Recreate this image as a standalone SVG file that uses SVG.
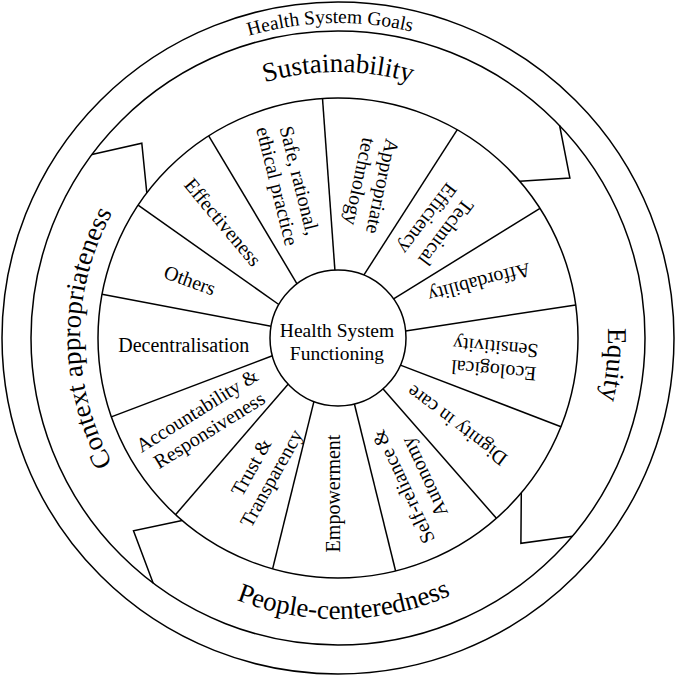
<svg xmlns="http://www.w3.org/2000/svg" width="676" height="676" viewBox="0 0 676 676">
<style>
.ln{fill:none;stroke:#000;stroke-width:1.5}
.lbl{font-family:"Liberation Serif","Times New Roman",serif;font-size:20px;fill:#000;text-anchor:middle}
.big{font-family:"Liberation Serif","Times New Roman",serif;font-size:27px;fill:#000;text-anchor:middle}
.goal{font-family:"Liberation Serif","Times New Roman",serif;font-size:19.5px;fill:#000;text-anchor:middle}
</style>
<defs>
<path id="pGoals" d="M23,338 A315,315 0 0 1 653,338"/>
<path id="pSust" d="M72,338 A266,266 0 0 1 604,338"/>
<path id="pEq" d="M338,68 A270,270 0 0 1 338,608"/>
<path id="pPeople" d="M57,338 A281,281 0 0 0 619,338"/>
<path id="pCtx" d="M338,596 A258,258 0 0 1 338,80"/>
</defs>
<rect width="676" height="676" fill="#fff"/>
<g id="goals-ring">
<circle class="ln" cx="338" cy="338" r="336"/>
<circle class="ln" cx="338" cy="338" r="307"/>
<text class="goal"><textPath href="#pGoals" startOffset="486.6">Health System Goals</textPath></text>
</g>
<g id="wheel">
<circle class="ln" cx="338" cy="338" r="240"/>
</g>
<g id="arrows">
<polyline class="ln" points="91.9,154.5 141.8,143.2 146.8,192.9"/>
<polyline class="ln" points="519.7,181.3 569.9,178 559.6,125.5"/>
<polyline class="ln" points="521.3,492.9 520.9,543.3 572.5,536.2"/>
<polyline class="ln" points="182.1,520.5 133.5,530.7 153.2,583.2"/>
</g>
<g id="goal-sustainability"><text class="big"><textPath href="#pSust" startOffset="50%">Sustainability</textPath></text></g>
<g id="goal-equity"><text class="big"><textPath href="#pEq" startOffset="450">Equity</textPath></text></g>
<g id="goal-people"><text class="big"><textPath href="#pPeople" startOffset="447.3">People-centeredness</textPath></text></g>
<g id="goal-context"><text class="big"><textPath href="#pCtx" startOffset="50%">Context appropriateness</textPath></text></g>
<g id="spokes">
<line class="ln" x1="334.9" y1="270.1" x2="322.5" y2="98.5"/>
<line class="ln" x1="363.8" y1="275.1" x2="457.3" y2="129.7"/>
<line class="ln" x1="393.6" y1="298.9" x2="540.0" y2="208.3"/>
<line class="ln" x1="405.6" y1="330.9" x2="575.7" y2="305.0"/>
<line class="ln" x1="400.4" y1="365.1" x2="561.0" y2="426.7"/>
<line class="ln" x1="383.1" y1="388.9" x2="496.4" y2="518.3"/>
<line class="ln" x1="354.4" y1="404.0" x2="395.6" y2="571.0"/>
<line class="ln" x1="313.9" y1="401.6" x2="272.6" y2="568.9"/>
<line class="ln" x1="288.1" y1="384.2" x2="175.5" y2="514.7"/>
<line class="ln" x1="272.4" y1="355.8" x2="111.3" y2="416.9"/>
<line class="ln" x1="271.0" y1="326.3" x2="102.0" y2="294.3"/>
<line class="ln" x1="278.8" y1="304.5" x2="138.1" y2="205.2"/>
<line class="ln" x1="297.0" y1="283.8" x2="208.7" y2="135.8"/>
</g>
<g id="center">
<circle cx="338" cy="338" r="68" fill="#fff" stroke="#000" stroke-width="1.5"/>
<text class="lbl" style="font-size:19.5px"><tspan x="337" y="337">Health System</tspan><tspan x="337" y="360">Functioning</tspan></text>
</g>
<g id="s-safe"><text class="lbl" transform="translate(288.7,183.3) rotate(76)"><tspan x="0" y="-4.5">Safe, rational,</tspan><tspan x="0" y="18.5">ethical practice</tspan></text></g>
<g id="s-appropriate"><text class="lbl" transform="translate(371.5,184) rotate(102)"><tspan x="0" y="-4.5">Appropriate</tspan><tspan x="0" y="18.5">technology</tspan></text></g>
<g id="s-technical"><text class="lbl" transform="translate(437,225.7) rotate(127)"><tspan x="0" y="-4.5">Technical</tspan><tspan x="0" y="18.5">Efficiency</tspan></text></g>
<g id="s-affordability"><text class="lbl" transform="translate(479.5,283) rotate(165)" y="7">Affordability</text></g>
<g id="s-ecological"><text class="lbl" transform="translate(494.6,359.3) rotate(185)"><tspan x="0" y="-4.5">Ecological</tspan><tspan x="0" y="18.5">Sensitivity</tspan></text></g>
<g id="s-dignity"><text class="lbl" transform="translate(456.75,425.75) rotate(217)" y="7">Dignity in care</text></g>
<g id="s-selfreliance"><text class="lbl" transform="translate(413.3,482) rotate(245)"><tspan x="0" y="-4.5">Self-reliance &amp;</tspan><tspan x="0" y="18.5">Autonomy</tspan></text></g>
<g id="s-empowerment"><text class="lbl" transform="translate(333,493.5) rotate(-90)" y="7">Empowerment</text></g>
<g id="s-trust"><text class="lbl" transform="translate(261,472.5) rotate(-61)"><tspan x="0" y="-4.5">Trust &amp;</tspan><tspan x="0" y="18.5">Transparency</tspan></text></g>
<g id="s-accountability"><text class="lbl" transform="translate(203,420) rotate(-32)"><tspan x="0" y="-4.5">Accountability &amp;</tspan><tspan x="0" y="18.5">Responsiveness</tspan></text></g>
<g id="s-decentralisation"><text class="lbl" transform="translate(183.8,345)" y="7">Decentralisation</text></g>
<g id="s-others"><text class="lbl" transform="translate(190,280) rotate(20)" y="7">Others</text></g>
<g id="s-effectiveness"><text class="lbl" transform="translate(223,222) rotate(50)" y="7">Effectiveness</text></g>
</svg>
